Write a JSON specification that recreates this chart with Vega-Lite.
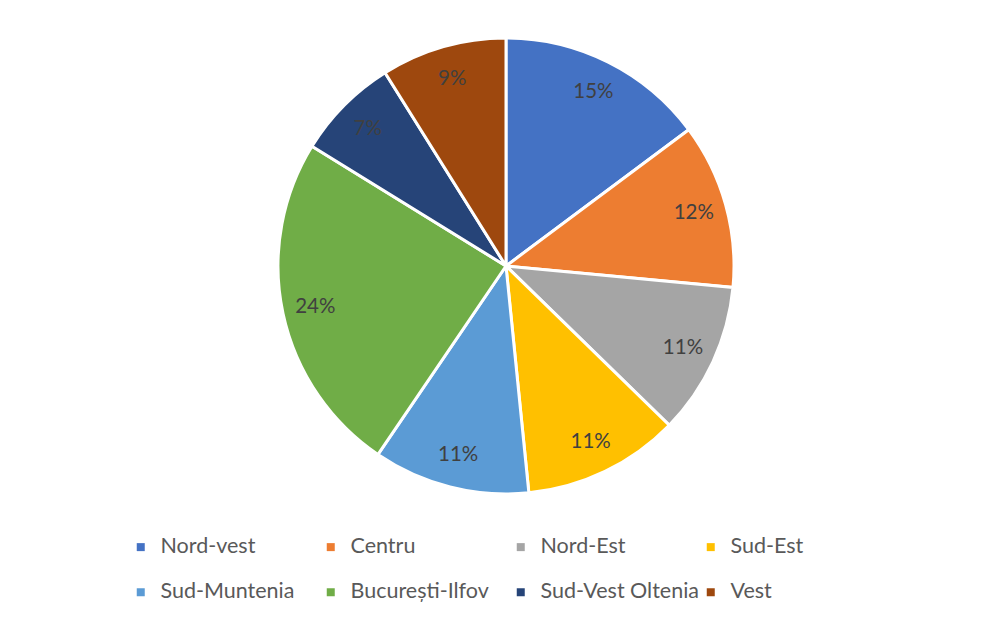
{
  "$schema": "https://vega.github.io/schema/vega-lite/v6.json",
  "width": 992,
  "height": 620,
  "autosize": {"type": "fit", "contains": "padding"},
  "padding": {"top": 0, "left": 130, "right": 110, "bottom": 17},
  "background": "white",
  "config": {
    "view": {"stroke": null},
    "font": "Lato",
    "legend": {"layout": {"bottom": {"anchor": "start"}}}
  },
  "data": {
    "values": [
      {"region": "Nord-vest", "share": 0.148, "order": 1},
      {"region": "Centru", "share": 0.117, "order": 2},
      {"region": "Nord-Est", "share": 0.108, "order": 3},
      {"region": "Sud-Est", "share": 0.111, "order": 4},
      {"region": "Sud-Muntenia", "share": 0.111, "order": 5},
      {"region": "București-Ilfov", "share": 0.243, "order": 6},
      {"region": "Sud-Vest Oltenia", "share": 0.073, "order": 7},
      {"region": "Vest", "share": 0.089, "order": 8}
    ]
  },
  "encoding": {
    "theta": {"field": "share", "type": "quantitative", "stack": true},
    "order": {"field": "order", "type": "quantitative"},
    "color": {
      "field": "region",
      "type": "nominal",
      "scale": {
        "domain": ["Nord-vest", "Centru", "Nord-Est", "Sud-Est", "Sud-Muntenia", "București-Ilfov", "Sud-Vest Oltenia", "Vest"],
        "range": ["#4472C4", "#ED7D31", "#A5A5A5", "#FFC000", "#5B9BD5", "#70AD47", "#264478", "#9E480E"]
      },
      "legend": {
        "orient": "bottom",
        "title": null,
        "columns": 4,
        "direction": "horizontal",
        "gridAlign": "all",
        "columnPadding": 0,
        "rowPadding": 22.5,
        "offset": 4,
        "symbolType": "square",
        "symbolSize": 64,
        "symbolStrokeWidth": 0,
        "labelFontSize": 21.5,
        "labelColor": "#595959",
        "labelOffset": 9,
        "labelLimit": 300
      }
    }
  },
  "layer": [
    {
      "mark": {"type": "arc", "outerRadius": 228, "stroke": "white", "strokeWidth": 3}
    },
    {
      "mark": {"type": "text", "radius": 195, "fontSize": 20.5, "fill": "#404040"},
      "encoding": {
        "text": {"field": "share", "type": "quantitative", "format": ".0%"}
      }
    }
  ]
}
